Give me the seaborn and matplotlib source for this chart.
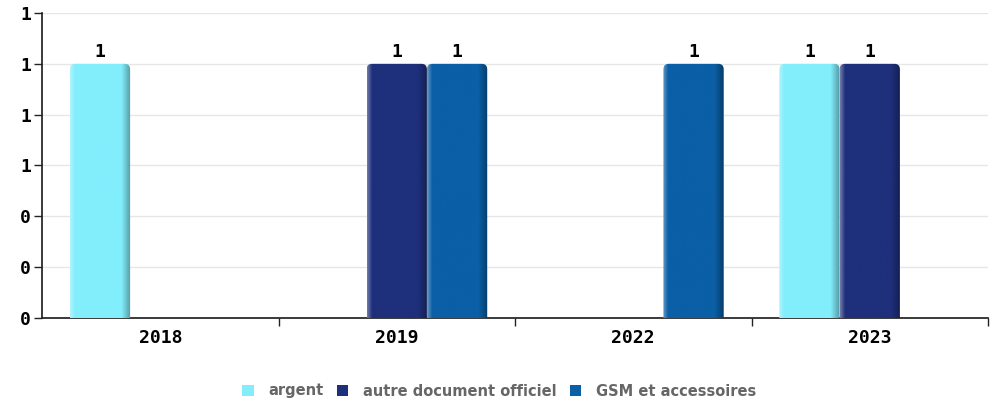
import matplotlib
matplotlib.use("Agg")
import matplotlib.pyplot as plt
import matplotlib.ticker as mticker
from matplotlib.patches import FancyBboxPatch
from matplotlib.colors import to_rgb
import numpy as np
import seaborn as sns
import pandas as pd

years = ["2018", "2019", "2022", "2023"]
series = ["argent", "autre document officiel", "GSM et accessoires"]
colors = ["#82eefc", "#1e2f7b", "#0a5fa6"]
values = {
    "argent": [1, None, None, 1],
    "autre document officiel": [None, 1, None, 1],
    "GSM et accessoires": [None, 1, 1, None],
}

rows = []
for s in series:
    for y, v in zip(years, values[s]):
        if v is not None:
            rows.append({"annee": y, "serie": s, "valeur": v})
df = pd.DataFrame(rows)

sns.set_theme(style="white")
plt.rcParams["font.family"] = ["DejaVu Sans"]
label_font = {"family": "DejaVu Sans Mono", "weight": "bold", "size": 13}

fig = plt.figure(figsize=(9.98, 4.04), dpi=100)
ax = fig.add_axes([42 / 998, 86 / 404, 946 / 998, 305 / 404])

sns.barplot(data=df, x="annee", y="valeur", hue="serie", order=years,
            hue_order=series, palette=colors, width=0.765, dodge=True,
            linewidth=0, saturation=1, ax=ax, legend=True)

ax.set_ylim(0, 1.2)
ax.set_xlim(-0.5, 3.5)


def shade_ramp(base, n=64):
    base = np.array(to_rgb(base))
    t = np.linspace(0, 1, n)
    out = np.empty((1, n, 3))
    for i, u in enumerate(t):
        if u < 0.08:
            c = base + (1 - base) * 0.35 * (1 - u / 0.08)
        elif u > 0.85:
            c = base * (1 - 0.35 * (u - 0.85) / 0.15)
        else:
            c = base
        out[0, i] = np.clip(c, 0, 1)
    return out


# shaded, round-topped bars laid over the seaborn bars
for bar in ax.patches:
    h = bar.get_height()
    if not np.isfinite(h) or h <= 0:
        continue
    x0, w = bar.get_x(), bar.get_width()
    col = bar.get_facecolor()
    clip = FancyBboxPatch((x0, -0.2), w, h + 0.2,
                          boxstyle="round,pad=0,rounding_size=0.022",
                          mutation_aspect=1.0, transform=ax.transData,
                          facecolor="none", edgecolor="none")
    ax.add_patch(clip)
    img = ax.imshow(shade_ramp(col[:3]), extent=(x0, x0 + w, 0, h),
                    aspect="auto", zorder=3, interpolation="bilinear")
    img.set_clip_path(clip)
    bar.set_alpha(0)
    ax.text(x0 + w / 2, h + 0.012, f"{h:.0f}", ha="center", va="bottom",
            color="black", fontdict=label_font, zorder=4)

ax.set_xlim(-0.5, 3.5)
ax.set_ylim(0, 1.2)
ax.yaxis.set_major_locator(mticker.MultipleLocator(0.2))
ax.yaxis.set_major_formatter(mticker.FuncFormatter(lambda v, p: f"{v:.0f}"))
ax.grid(axis="y", color="#e6e6e6", linewidth=1)
ax.set_axisbelow(True)

ax.set_xlabel("")
ax.set_ylabel("")
for side in ["top", "right"]:
    ax.spines[side].set_visible(False)
ax.spines["left"].set_color("#222222")
ax.spines["bottom"].set_color("#222222")

ax.tick_params(axis="y", which="major", length=6, width=1, color="#222222",
               left=True, pad=2)
ax.tick_params(axis="x", which="major", length=0, pad=8)
for lab in ax.get_yticklabels() + ax.get_xticklabels():
    lab.set_fontfamily("DejaVu Sans Mono")
    lab.set_fontweight("bold")
    lab.set_fontsize(13)
    lab.set_color("black")
ax.xaxis.set_minor_locator(mticker.FixedLocator([0.5, 1.5, 2.5, 3.5]))
ax.tick_params(axis="x", which="minor", length=6, width=1, color="#222222",
               bottom=True)

handles, labels = ax.get_legend_handles_labels()
ax.legend_.remove()
leg = fig.legend(handles, labels, loc="center", bbox_to_anchor=(0.5, 13 / 404),
                 ncol=3, frameon=False, handlelength=0.8, handleheight=0.8,
                 handletextpad=1.0, columnspacing=0.9,
                 prop={"size": 10.5, "weight": "bold"})
for t in leg.get_texts():
    t.set_color("#666666")

fig.savefig("out.png", dpi=100)
